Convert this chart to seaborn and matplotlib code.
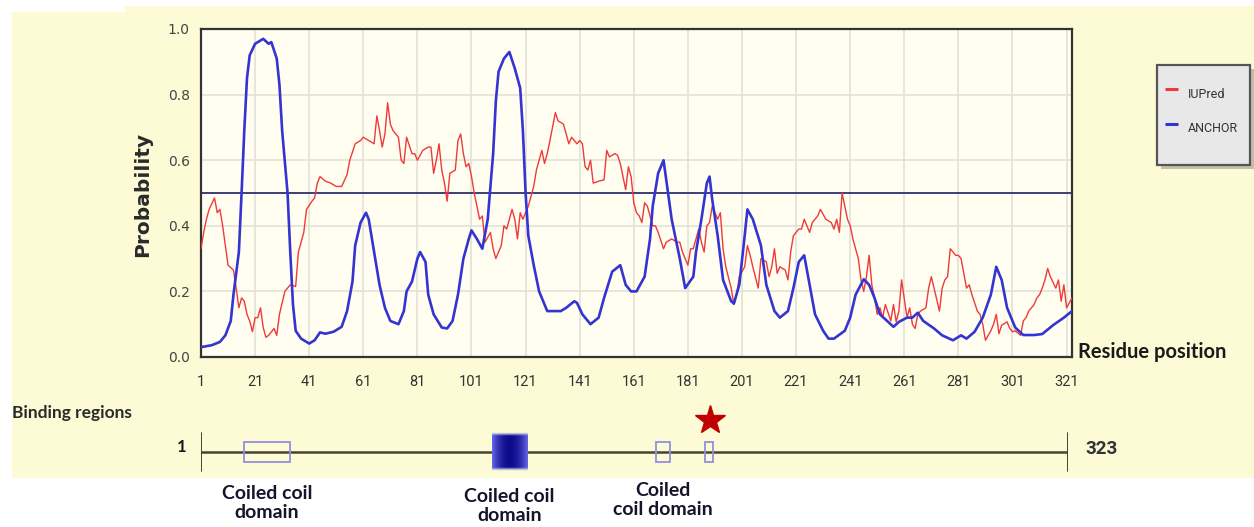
import numpy as np
import pandas as pd
import matplotlib
matplotlib.use("Agg")
import matplotlib.pyplot as plt
from matplotlib import font_manager as fm
from matplotlib.patches import Rectangle
from matplotlib.transforms import blended_transform_factory
import seaborn as sns

# ---------------- data ----------------
anchor_res = [1, 5, 8, 10, 12, 13, 15, 16, 17, 18, 19, 21, 24, 26, 27, 29, 30, 31, 33, 34,
              35, 36, 38, 41, 43, 45, 47, 50, 53, 55, 57, 58, 60, 62, 63, 65, 67, 69, 71, 74,
              76, 77, 79, 81, 82, 84, 85, 87, 90, 92, 94, 96, 98, 100, 101, 103, 105, 107, 109, 110,
              111, 113, 115, 117, 119, 120, 121, 122, 124, 126, 129, 131, 134, 136, 139, 140, 142, 145, 148, 150,
              153, 156, 158, 160, 162, 165, 167, 168, 170, 172, 173, 175, 178, 180, 183, 184, 186, 188, 189, 190,
              192, 194, 197, 198, 200, 202, 203, 205, 208, 210, 213, 215, 218, 220, 222, 224, 226, 228, 231, 233,
              235, 239, 241, 243, 246, 248, 250, 252, 255, 257, 259, 262, 264, 266, 268, 272, 275, 279, 282, 284,
              287, 290, 293, 295, 297, 299, 302, 305, 309, 312, 316, 320, 323]
anchor_val = [0.03, 0.036, 0.046, 0.066, 0.11, 0.19, 0.32, 0.50, 0.69, 0.85, 0.92, 0.955, 0.97, 0.955, 0.96, 0.91, 0.83, 0.69, 0.50, 0.32,
              0.16, 0.08, 0.056, 0.041, 0.051, 0.075, 0.071, 0.077, 0.092, 0.14, 0.23, 0.34, 0.41, 0.44, 0.42, 0.32, 0.22, 0.15, 0.11, 0.10,
              0.14, 0.20, 0.23, 0.30, 0.32, 0.29, 0.19, 0.13, 0.09, 0.087, 0.11, 0.19, 0.30, 0.36, 0.386, 0.36, 0.33, 0.42, 0.62, 0.78,
              0.87, 0.91, 0.93, 0.88, 0.82, 0.69, 0.50, 0.37, 0.28, 0.20, 0.14, 0.14, 0.14, 0.15, 0.17, 0.165, 0.13, 0.10, 0.12, 0.18,
              0.26, 0.28, 0.22, 0.20, 0.20, 0.245, 0.36, 0.46, 0.56, 0.60, 0.54, 0.42, 0.30, 0.21, 0.245, 0.32, 0.42, 0.53, 0.55, 0.48,
              0.37, 0.235, 0.17, 0.163, 0.22, 0.37, 0.45, 0.42, 0.34, 0.22, 0.14, 0.12, 0.14, 0.21, 0.29, 0.31, 0.22, 0.13, 0.08, 0.056,
              0.056, 0.08, 0.12, 0.19, 0.237, 0.22, 0.18, 0.13, 0.107, 0.092, 0.107, 0.12, 0.12, 0.135, 0.11, 0.087, 0.066, 0.051, 0.066, 0.056,
              0.077, 0.12, 0.19, 0.275, 0.235, 0.15, 0.09, 0.067, 0.067, 0.07, 0.097, 0.12, 0.14]

iupred_res = [1, 2, 3, 4, 6, 7, 8, 9, 10, 11, 13, 14, 15, 16, 17, 18, 19, 20, 21, 22,
              23, 24, 25, 26, 28, 29, 30, 32, 33, 34, 36, 37, 39, 40, 42, 43, 44, 45, 47, 49,
              51, 53, 55, 56, 58, 60, 61, 63, 65, 66, 67, 68, 69, 70, 71, 72, 74, 75, 76, 77,
              79, 80, 81, 83, 85, 86, 87, 88, 89, 90, 91, 92, 93, 95, 96, 97, 98, 99, 100, 101,
              102, 104, 105, 106, 108, 109, 110, 112, 113, 114, 116, 117, 118, 119, 120, 122, 123, 124, 125, 127,
              128, 129, 130, 132, 133, 135, 136, 137, 138, 140, 141, 142, 143, 144, 145, 146, 148, 150, 151, 152,
              154, 155, 156, 158, 159, 160, 161, 162, 163, 164, 165, 166, 168, 169, 170, 172, 173, 175, 177, 178,
              179, 181, 182, 183, 185, 186, 187, 188, 189, 190, 192, 193, 194, 195, 197, 198, 199, 200, 202, 203,
              204, 205, 207, 208, 210, 211, 212, 213, 214, 215, 217, 218, 219, 220, 222, 223, 224, 226, 227, 229,
              230, 232, 234, 235, 236, 237, 238, 239, 240, 241, 242, 244, 245, 246, 247, 248, 249, 250, 251, 252,
              253, 254, 256, 257, 258, 259, 260, 262, 263, 264, 265, 266, 267, 269, 270, 271, 272, 274, 275, 276,
              277, 278, 280, 281, 282, 284, 285, 286, 288, 289, 290, 291, 293, 294, 295, 296, 297, 299, 300, 301,
              302, 304, 305, 306, 307, 309, 310, 311, 312, 313, 314, 315, 317, 318, 319, 320, 321, 323]
iupred_val = [0.33, 0.38, 0.42, 0.45, 0.485, 0.44, 0.45, 0.40, 0.34, 0.28, 0.265, 0.21, 0.15, 0.18, 0.17, 0.13, 0.11, 0.077, 0.12, 0.12,
              0.15, 0.09, 0.06, 0.066, 0.087, 0.066, 0.13, 0.20, 0.21, 0.22, 0.215, 0.32, 0.38, 0.45, 0.475, 0.485, 0.53, 0.55, 0.536, 0.53,
              0.52, 0.52, 0.556, 0.60, 0.65, 0.66, 0.67, 0.66, 0.65, 0.735, 0.69, 0.64, 0.68, 0.775, 0.71, 0.69, 0.67, 0.60, 0.59, 0.67,
              0.62, 0.62, 0.60, 0.63, 0.64, 0.64, 0.56, 0.60, 0.65, 0.57, 0.53, 0.475, 0.56, 0.57, 0.66, 0.68, 0.62, 0.58, 0.59, 0.55,
              0.50, 0.42, 0.43, 0.35, 0.38, 0.33, 0.30, 0.34, 0.40, 0.39, 0.45, 0.42, 0.36, 0.44, 0.42, 0.46, 0.49, 0.52, 0.57, 0.63,
              0.59, 0.62, 0.66, 0.745, 0.72, 0.71, 0.68, 0.65, 0.67, 0.65, 0.66, 0.65, 0.58, 0.57, 0.60, 0.53, 0.536, 0.54, 0.63, 0.61,
              0.62, 0.615, 0.59, 0.51, 0.58, 0.55, 0.47, 0.44, 0.43, 0.41, 0.47, 0.46, 0.40, 0.40, 0.38, 0.33, 0.35, 0.36, 0.35, 0.35,
              0.32, 0.28, 0.33, 0.33, 0.39, 0.35, 0.32, 0.40, 0.41, 0.46, 0.42, 0.44, 0.33, 0.275, 0.21, 0.16, 0.19, 0.245, 0.275, 0.34,
              0.31, 0.275, 0.21, 0.30, 0.29, 0.245, 0.275, 0.33, 0.255, 0.275, 0.265, 0.235, 0.32, 0.37, 0.39, 0.39, 0.42, 0.38, 0.41, 0.43,
              0.45, 0.42, 0.41, 0.39, 0.42, 0.38, 0.50, 0.46, 0.42, 0.40, 0.36, 0.30, 0.235, 0.20, 0.245, 0.31, 0.22, 0.18, 0.13, 0.15,
              0.12, 0.16, 0.11, 0.16, 0.107, 0.14, 0.235, 0.12, 0.15, 0.10, 0.087, 0.13, 0.14, 0.15, 0.21, 0.245, 0.21, 0.14, 0.21, 0.235,
              0.245, 0.33, 0.31, 0.31, 0.30, 0.21, 0.22, 0.19, 0.14, 0.13, 0.10, 0.051, 0.08, 0.10, 0.13, 0.071, 0.097, 0.107, 0.087, 0.077,
              0.08, 0.066, 0.11, 0.12, 0.14, 0.16, 0.18, 0.19, 0.21, 0.235, 0.27, 0.245, 0.21, 0.235, 0.17, 0.22, 0.15, 0.18]

threshold = 0.5
seq_length = 323
x_ticks = [1, 21, 41, 61, 81, 101, 121, 141, 161, 181, 201, 221, 241, 261, 281, 301, 321]
y_ticks = [0.0, 0.2, 0.4, 0.6, 0.8, 1.0]

region_start = [17, 109, 170, 188]
region_end = [34, 122, 175, 191]
region_strong = [False, True, False, False]
region_labels = ["Coiled coil\ndomain", "Coiled coil\ndomain", "Coiled\ncoil domain", None]
star_residue = 190

# ---------------- fonts ----------------
installed = {f.name for f in fm.fontManager.ttflist}
NARROW = "Roboto" if "Roboto" in installed else "DejaVu Sans"
HUMAN = "Lato" if "Lato" in installed else "DejaVu Sans"

sns.set_style("white")
plt.rcParams["font.family"] = ["DejaVu Sans"]

W, H = 1254, 527
fig = plt.figure(figsize=(W / 100, H / 100), dpi=100)
fig.patch.set_facecolor("white")


def fx(px):
    return px / W


def fy(py):
    return 1 - py / H


# Pixel-space canvas for the panel background, legend and free labels
bg = fig.add_axes([0, 0, 1, 1], zorder=-5)
bg.set_xlim(0, W)
bg.set_ylim(H, 0)
bg.axis("off")
PANEL = "#FDFBD6"
bg.add_patch(Rectangle((12, 6), W - 12, 472, facecolor=PANEL, edgecolor="none"))
bg.add_patch(Rectangle((0, 0), 125, 12, facecolor="white", edgecolor="none"))

# ---------------- main probability panel ----------------
ax = fig.add_axes([fx(201), fy(357), fx(1072) - fx(201), fy(29) - fy(357)])
ax.set_facecolor("#FFFEF0")

df_iu = pd.DataFrame({"Residue": iupred_res, "Probability": iupred_val})
df_an = pd.DataFrame({"Residue": anchor_res, "Probability": anchor_val})
sns.lineplot(data=df_iu, x="Residue", y="Probability", ax=ax, color="#EE3A3A",
             lw=1.0, estimator=None, sort=False, zorder=3)
sns.lineplot(data=df_an, x="Residue", y="Probability", ax=ax, color="#3434D2",
             lw=1.9, estimator=None, sort=False, zorder=4)
ax.axhline(threshold, color="#2E2E70", lw=1.3, zorder=2)

ax.set_xlim(1, seq_length)
ax.set_ylim(0, 1)
ax.set_xticks(x_ticks)
ax.set_yticks(y_ticks)
ax.set_yticks(np.arange(0.1, 1.0, 0.2), minor=True)
ax.set_yticklabels([f"{v:.1f}" for v in y_ticks])
ax.grid(True, which="major", color="#E2E2D6", lw=1.2, zorder=0)
ax.set_axisbelow(True)
ax.tick_params(axis="both", which="major", direction="in", length=7, width=1.4,
               color="#333333")
ax.tick_params(axis="y", which="minor", direction="in", length=4, width=1.2,
               color="#333333")
ax.tick_params(axis="y", labelsize=10, labelcolor="#444444", pad=8)
ax.tick_params(axis="x", labelsize=10.5, labelcolor="#333333", pad=13)
for lab in ax.get_xticklabels():
    lab.set_fontfamily(NARROW)
for side in ["left", "right", "top", "bottom"]:
    ax.spines[side].set_visible(True)
    ax.spines[side].set_color("#333333")
    ax.spines[side].set_linewidth(1.6)
ax.set_xlabel("")
ax.set_ylabel("")

bg.text(143, 194, "Probability", rotation=90, ha="center", va="center",
        fontsize=14.5, fontweight="bold", color="#2a2a2a", family="DejaVu Sans")
bg.text(1078, 352, "Residue position", ha="left", va="center", fontsize=14.5,
        fontweight="bold", color="#1a1a1a", family=HUMAN)

# ---------------- legend ----------------
ov = fig.add_axes([0, 0, 1, 1], zorder=10)
ov.set_xlim(0, W)
ov.set_ylim(H, 0)
ov.axis("off")
ov.patch.set_alpha(0)
ov.add_patch(Rectangle((1161, 69), 93, 100, facecolor="#9A9A8A", edgecolor="none", alpha=0.6))
ov.add_patch(Rectangle((1157, 65), 93, 100, facecolor="#E8E8E8", edgecolor="#555555", lw=1.6))
for yy, name, col in [(89, "IUPred", "#EE3A3A"), (124, "ANCHOR", "#3434D2")]:
    ov.plot([1165, 1178], [yy, yy], color=col, lw=2.2, solid_capstyle="butt")
    ov.text(1188, yy + 5, name, ha="left", va="center", fontsize=9,
            color="#333333", family=NARROW)

# ---------------- binding-region track ----------------
tax = fig.add_axes([fx(201), fy(476), fx(1068) - fx(201), fy(428) - fy(476)])
tax.set_xlim(1, seq_length)
tax.set_ylim(-1, 1)
tax.axis("off")
tax.patch.set_alpha(0)
tax.plot([1, seq_length], [0, 0], color="#444433", lw=1.8, zorder=2)
for xv in [1, seq_length]:
    tax.plot([xv, xv], [-0.8, 0.8], color="#444433", lw=1.4, zorder=2)

for s, e, strong in zip(region_start, region_end, region_strong):
    if strong:
        u = np.linspace(-1, 1, 60)
        v = np.linspace(-1, 1, 60)
        U, V = np.meshgrid(u, v)
        wgt = (1 - U ** 2) * np.clip((1 - np.abs(V)) * 5, 0, 1)
        dark = np.array([0.05, 0.05, 0.55])
        light = np.array([0.40, 0.40, 0.92])
        img = light[None, None, :] * (1 - wgt[..., None]) + dark[None, None, :] * wgt[..., None]
        alpha = np.clip((1 - np.abs(V)) * 6, 0, 1)
        rgba = np.dstack([img, alpha])
        tax.imshow(rgba, extent=[s, e, -0.8, 0.8], aspect="auto", zorder=3,
                   interpolation="bilinear")
    else:
        tax.add_patch(Rectangle((s, -0.42), e - s, 0.84, facecolor="none",
                                edgecolor="#9090DD", lw=1.3, zorder=3))
tax.set_xlim(1, seq_length)
tax.set_ylim(-1, 1)
tax.plot([star_residue], [1.35], marker="*", markersize=22, color="#C00000",
         clip_on=False, zorder=4)

bg.text(186, 447, "1", ha="right", va="center", fontsize=12, fontweight="bold",
        color="#1a1a1a", family=HUMAN)
bg.text(1085, 449, str(seq_length), ha="left", va="center", fontsize=13.5,
        fontweight="bold", color="#333333", family=NARROW)
bg.text(12, 413, "Binding regions", ha="left", va="center", fontsize=12.5,
        fontweight="bold", color="#2a2a2a", family=HUMAN)

tr = blended_transform_factory(tax.transData, fig.transFigure)
label_y = [503, 506, 500]
for s, e, lab, ly in zip(region_start, region_end, region_labels, label_y + [0]):
    if lab is None:
        continue
    fig.text((s + e) / 2, fy(ly), lab, transform=tr, ha="center", va="center",
             fontsize=14, fontweight="bold", color="#14142a", family=HUMAN,
             linespacing=1.2)

fig.savefig("out.png", dpi=100, facecolor="white")
